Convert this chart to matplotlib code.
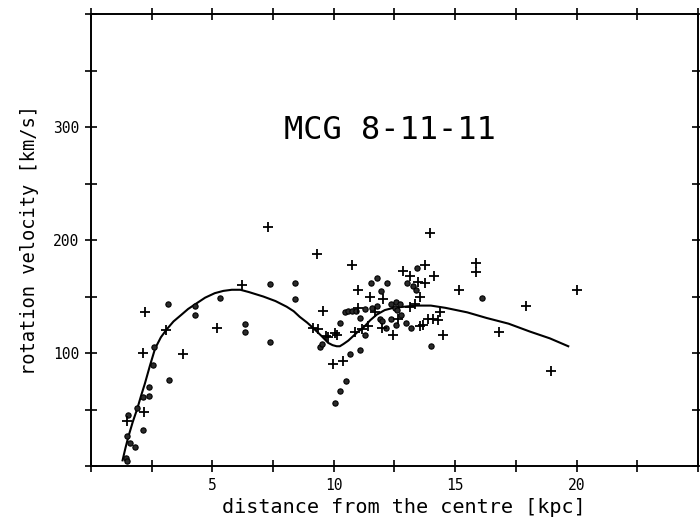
import matplotlib.pyplot as plt
import numpy as np

plt.rcParams['font.family'] = 'DejaVu Sans Mono'

# filled circles (one side of the disc)
circ_r = [1.43, 1.47, 1.50, 1.61, 1.81, 1.54, 1.91, 2.13, 2.39, 2.39, 2.13, 2.54,
          2.61, 3.18, 3.21, 4.28, 4.28, 5.31, 6.34, 6.34, 7.37, 7.37, 8.40, 8.40,
          9.43, 9.50, 10.05, 10.26, 10.50, 10.26, 10.67, 11.08, 10.46, 10.60, 10.74,
          10.90, 11.28, 11.08, 11.52, 11.77, 11.56, 11.28, 11.93, 12.18, 11.90,
          11.97, 12.15, 12.36, 12.56, 12.79, 12.97, 13.20, 12.35, 12.58, 12.72,
          12.52, 12.60, 13.03, 13.27, 13.38, 13.44, 13.99, 16.09, 11.79]
circ_v = [7, 4, 27, 20, 17, 45, 51, 61, 62, 70, 32, 89,
          105, 143, 76, 142, 134, 149, 126, 119, 161, 110, 162, 148,
          105, 108, 56, 66, 75, 127, 99, 103, 136, 137, 137,
          137, 139, 131, 162, 166, 140, 116, 155, 162, 130,
          128, 122, 130, 125, 134, 127, 122, 143, 145, 143,
          140, 138, 162, 159, 156, 175, 106, 149, 142]

# crosses (other side of the disc)
plus_r = [1.47, 2.20, 2.22, 2.15, 3.78, 3.09, 5.18, 6.23, 7.30, 9.30, 9.57, 9.16,
          9.36, 9.77, 9.98, 10.39, 10.76, 11.01, 11.49, 10.87, 11.15, 10.05, 10.15,
          11.42, 11.70, 12.04, 12.00, 12.45, 12.66, 13.14, 13.34, 12.86, 13.14,
          13.48, 13.76, 13.76, 13.55, 14.14, 13.96, 13.55, 13.69, 13.89, 14.10,
          14.30, 14.37, 14.51, 15.17, 15.84, 15.84, 16.82, 17.92, 20.00, 18.95,
          11.01, 9.70]
plus_v = [40, 48, 136, 100, 99, 120, 122, 160, 212, 188, 137, 122,
          121, 114, 90, 93, 178, 156, 150, 119, 121, 118, 116,
          124, 136, 148, 122, 116, 130, 141, 143, 173, 168,
          163, 162, 178, 150, 168, 206, 124, 125, 130, 130,
          129, 136, 116, 156, 180, 172, 119, 142, 156, 84,
          140, 115]

# fitted rotation curve
curve_r = [1.30, 1.42, 1.54, 1.72, 1.91, 2.06, 2.22, 2.43, 2.64, 2.88, 3.12, 3.4,
           3.73, 4.0, 4.28, 4.7, 5.1, 5.45, 5.8, 6.15, 6.5, 6.8, 7.1, 7.6,
           8.06, 8.35, 8.6, 8.9, 9.16, 9.5, 9.77, 9.95, 10.12, 10.25, 10.4, 10.6,
           10.8, 11.0, 11.2, 11.5, 11.77, 12.1, 12.45, 12.9, 13.41, 14.0, 14.6,
           15.5, 16.3, 17.2, 18.08, 18.9, 19.66]
curve_v = [5, 16, 26, 39, 51, 62, 73, 89, 104, 114, 121, 128,
           134, 139, 143, 149, 153, 155, 156, 156, 154, 152, 150, 146,
           141, 137, 132, 127, 122, 115, 109, 107, 106, 106, 108, 111,
           115, 119, 122, 129, 134, 138, 140, 141, 142, 142, 140,
           136, 131, 126, 119, 113, 106]

fig = plt.figure(figsize=(7, 5.31), dpi=100)
ax = fig.add_axes([0.130, 0.1224, 0.867, 0.851])

ax.plot(curve_r, curve_v, color='black', linewidth=1.5)
ax.plot(circ_r, circ_v, linestyle='none', marker='o', markersize=3.8,
        markerfacecolor='#2a2a2a', markeredgecolor='black', markeredgewidth=0.8)
ax.plot(plus_r, plus_v, linestyle='none', marker='+', markersize=7,
        markeredgecolor='black', markeredgewidth=1.3)

ax.set_xlim(0, 25)
ax.set_ylim(0, 400)

xt = np.arange(0, 25.1, 2.5)
ax.set_xticks(xt)
ax.set_xticklabels(['' if t % 5 or t in (0, 25) else str(int(t)) for t in xt])
yt = np.arange(0, 401, 50)
ax.set_yticks(yt)
ax.set_yticklabels(['' if t % 100 or t in (0, 400) else str(int(t)) for t in yt])
ax.tick_params(direction='inout', length=9, width=1.2, labelsize=10.5,
               top=True, right=True, pad=4)

for s in ax.spines.values():
    s.set_linewidth(1.4)

ax.set_xlabel('distance from the centre [kpc]', fontsize=14.5, labelpad=4)
ax.xaxis.set_label_coords(0.515, -0.07)
ax.set_ylabel('rotation velocity [km/s]', fontsize=13.5, labelpad=10)

ax.text(12.3, 297, 'MCG 8-11-11', fontsize=23, ha='center', va='center')

fig.savefig('out.png', dpi=100, facecolor='white')
